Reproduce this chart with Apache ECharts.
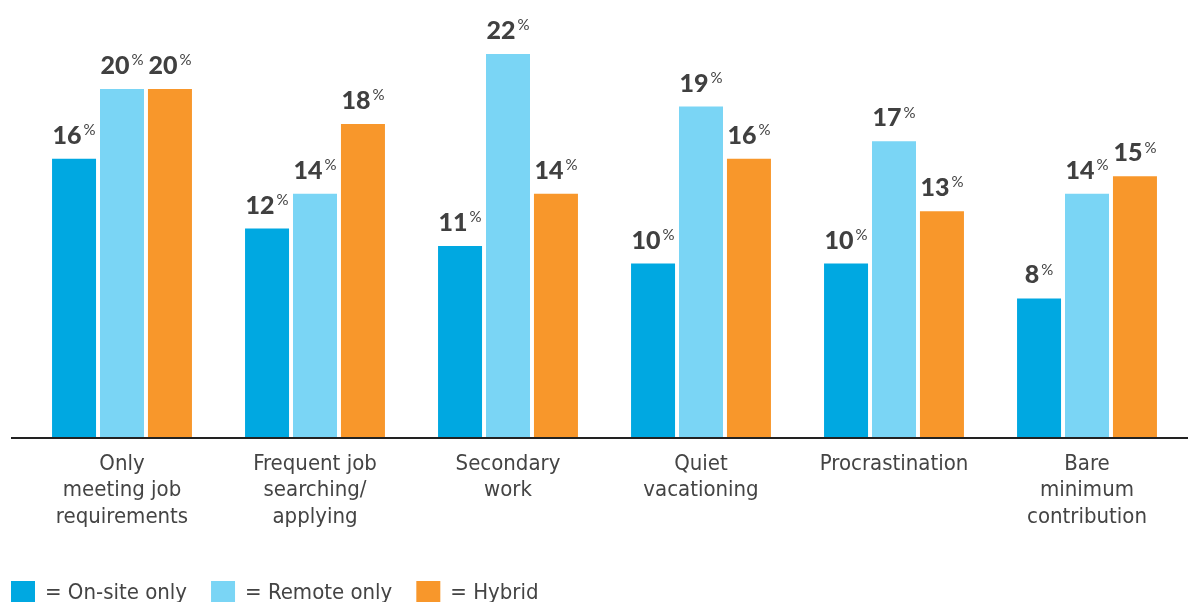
<!DOCTYPE html>
<html><head><meta charset="utf-8">
<script src="https://cdn.jsdelivr.net/npm/echarts@6/dist/echarts.min.js"></script>
<style>html,body{margin:0;padding:0;background:#fff}#c{width:1188px;height:602px}</style>
</head><body><div id="c"></div>
<script>
const categories = ["Only\nmeeting job\nrequirements", "Frequent job\nsearching/\napplying", "Secondary\nwork", "Quiet\nvacationing", "Procrastination", "Bare\nminimum\ncontribution"];
const seriesNames = ["On-site only", "Remote only", "Hybrid"];
const onsite = [16, 12, 11, 10, 10, 8];
const remote = [20, 14, 22, 19, 17, 14];
const hybrid = [20, 18, 14, 16, 13, 15];
const colors = ["#00A8E1", "#7AD5F5", "#F8972B"];

const labelFont = "'DejaVu Sans Condensed', Roboto, sans-serif";
const barLabel = {
  show: true, position: 'top', distance: 10,
  formatter: p => '{n|' + p.value + '}{p|%}',
  rich: {
    n: {fontFamily: 'Lato', fontWeight: 900, fontSize: 25, color: '#404040', lineHeight: 26},
    p: {fontFamily: 'Lato', fontWeight: 400, fontSize: 15, color: '#404040', verticalAlign: 'top', lineHeight: 26, padding: [0,0,0,2]}
  }
};
function mk(name, data, color) {
  return {name, type: 'bar', data, barWidth: 44, barGap: '9%', itemStyle: {color}, label: barLabel, animation: false};
}
const chart = echarts.init(document.getElementById('c'));
chart.setOption({
  animation: false,
  grid: {left: 25.5, right: 4.5, top: 1.75, bottom: 164, containLabel: false},
  legend: {
    left: 11, top: 581, padding: 0, itemWidth: 24, itemHeight: 24, itemGap: 24, icon: 'rect',
    formatter: n => '= ' + n,
    textStyle: {fontFamily: labelFont, fontSize: 22, color: '#444', padding: [0,0,0,5]},
    data: seriesNames
  },
  xAxis: {
    type: 'category', data: categories,
    axisLine: {show: false}, axisTick: {show: false},
    axisLabel: {fontFamily: labelFont, fontSize: 22, lineHeight: 26.5, color: '#444', margin: 13, interval: 0}
  },
  yAxis: {type: 'value', min: 0, max: 25, show: false, splitLine: {show: false}},
  series: [mk(seriesNames[0], onsite, colors[0]), mk(seriesNames[1], remote, colors[1]), mk(seriesNames[2], hybrid, colors[2])]
});
const y0 = chart.convertToPixel({yAxisIndex: 0}, 0);
chart.setOption({graphic: [{type: 'line', z: 10, shape: {x1: 11, y1: y0, x2: 1188, y2: y0}, style: {stroke: '#222', lineWidth: 2}}]});
</script></body></html>
